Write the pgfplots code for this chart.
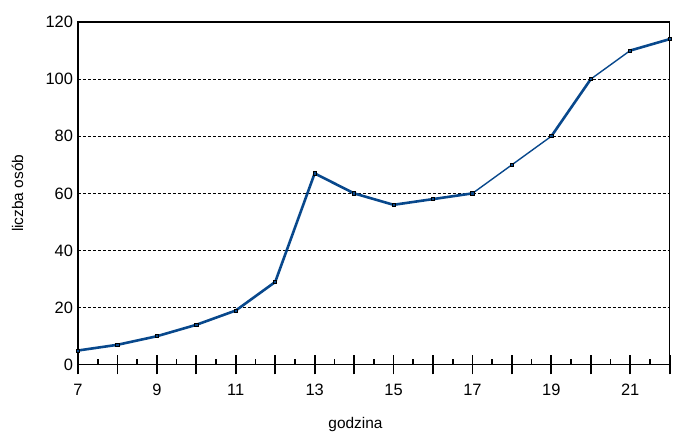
\documentclass[border=0pt]{standalone}
\usepackage{pgfplots}
\pgfplotsset{compat=1.18}
\usepackage{fontspec}
\setmainfont{Liberation Sans}
\definecolor{linec}{RGB}{8,72,140}
\begin{document}
\begin{tikzpicture}
\begin{axis}[
  scale only axis,
  width=592bp, height=343bp,
  xmin=7, xmax=22, ymin=0, ymax=120,
  xtick={7,...,22},
  xticklabels={7,,9,,11,,13,,15,,17,,19,,21,},
  ytick={0,20,...,120},
  tick pos=left,
  x tick label style={yshift=-6bp},
  tick align=center,
  major tick length=19bp,
  minor x tick num=1,
  minor tick length=6bp,
  major tick style={line width=1.8bp, black},
  minor tick style={line width=1.6bp, black, yshift=3bp},
  ytick style={draw=none},
  ymajorgrids,
  grid style={black, dash pattern=on 3bp off 2bp, line width=0.9pt},
  axis line style={black, line width=1.4bp},
  /pgf/number format/assume math mode=true,
  ticklabel style={font=\fontsize{16.5}{19}\selectfont},
  yticklabel style={xshift=8bp},
  label style={font=\fontsize{15.5}{18}\selectfont},
  xlabel={godzina},
  ylabel={liczba osób},
  xlabel style={at={(axis description cs:0.469,-0.175)}, anchor=center},
  ylabel style={at={(axis description cs:-0.102,0.5)}, anchor=center},
  clip=false,
  unbounded coords=jump,
]
\path (rel axis cs:-0.1318,-0.2041) rectangle (rel axis cs:1.0,1.0641);
\addplot[linec, line width=2.6bp, mark=none] coordinates {
 (7,5) (8,7) (9,10) (10,14) (11,19) (12,29) (13,67) (14,60) (15,56)
 (16,58) (17,60) (17.5,nan) (19,80) (20,100) (20.5,nan) (21,110) (22,114)
};
\addplot[linec, line width=1.4bp, mark=none] coordinates {
 (17,60) (18,70) (19,80) (19.5,nan) (20,100) (21,110)
};
\addplot[only marks, mark=square*, mark size=1.6bp,
  mark options={black, fill=linec, line width=0.8pt}] coordinates {
 (7,5) (8,7) (9,10) (10,14) (11,19) (12,29) (13,67) (14,60) (15,56)
 (16,58) (17,60) (18,70) (19,80) (20,100) (21,110) (22,114)
};
\end{axis}
\end{tikzpicture}
\end{document}
